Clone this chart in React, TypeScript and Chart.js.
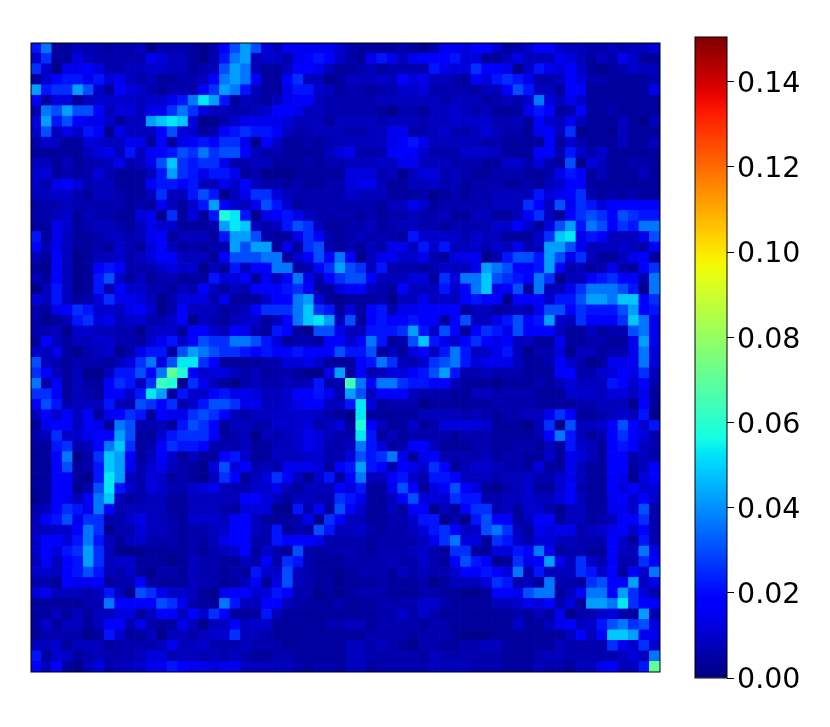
import React, { useEffect, useRef } from "react";
import { Chart, registerables } from "chart.js";

Chart.register(...registerables);

// Value behind each character used in the rows below.
const levelKeys = "0123456789abcdefgh";
const levelValues = [0.002, 0.004, 0.006, 0.008, 0.010, 0.012, 0.014, 0.0165, 0.0215, 0.0255, 0.03, 0.036, 0.042, 0.048, 0.053, 0.058, 0.064, 0.07];

const gridRows = [
  "8b1132212230222 1027aca53666664 211112102665774 124774332232335",
  "491153222226533 1028bc344267874 216863677785511 363336531326411",
  "940667522334433 123acb311377631 123122228655977 604865741012433",
  "147886856323112 237bcb711793301 333437563321758 986223752211112",
  "c899ca417542122 279cb8311688431 221224452222133 7a8331771111116",
  "715513444434468 bec813213677322 222333333233312 324b53641111111",
  "2bacaa73553669b 953322347763322 222102213343231 116871271121111",
  "5c8a7664133cded 500246666533313 333233323344442 231743631113103",
  "4a36487063337a5 412789887322333 223366223422353 221673901103111",
  "243115433661716 787996074112123 333367863333322 111171421113113",
  "11111356383778a 9b9aa7322111135 622277742224443 111772842411111",
  "331312236236ad9 899622331112122 333436633322211 442521a05311221",
  "4512125211138c9 868861200011111 555230355232112 221126871311131",
  "426752331117887 833647322121122 566311334231222 112134771111111",
  "334421332113933 8a8036995322222 433311120121223 333856792121211",
  "122322222121631 48c7436a8412222 222133641222223 33973a698577777",
  "223413221156091 518fe8067863222 212122322311331 13793179a97a988",
  "116412332136441 112ced3238a9311 223123322122224 47415ac8ba798bb",
  "816311233236713 3318cca21169721 232221844442433 11149de6873336a",
  "726311214215731 2122cacc1619a21 213266384833424 3623cca63334327",
  "317301334235773 3317aaabb147a7b 703664462156602 8aa8ca693113671",
  "107301787222454 40318377bb1279c a938222124336cb a778c7231262179",
  "3173018a4131221 1185571637b6279 aa733355195bbda 987b9033789772b",
  "038301827442213 273132777897115 773217333847bd6 7a1b3369bbba80b",
  "538312596653025 5526111477bc510 111203363437877 0777488accbdd79",
  "216798443674027 3331237999bd981 517826677771331 2326aa79888ac78",
  "201389563442247 0321344137bdec3 a1787787717a336 8a78c4397779db6",
  "223044332203441 774376218710aa6 338889c84a71798 6a7773113122ab6",
  "173133442214684 7a99bba85122177 47b812ad8647976 7331161122116c6",
  "43610234026881a cba99878778777a 88a1315738b8346 8302250331226b5",
  "a3212221359b5ae e97111122556411 178b93249ab8566 6311274201666b5",
  "9731300388a7bhf 74553231221006c 17235578ac82232 221117722457693",
  "b27131179839gf0 963102322323822 gb7bb9887731110 111213533387472",
  "99713217748ec18 447866533477862 ca3777322211332 222111444355361",
  "7a82333832a9792 48aa96633467733 8e5122201111112 222111122333071",
  "374737167981766 9a9732334444321 0e1111133332321 223369711234380",
  "16773761ba22318 a97133224445235 1f7311412555541 110390a3347a748",
  "23944677ca11489 997123032346532 2e8131222212221 11127b831279752",
  "1189237bd912798 872223113346522 3b8512773111221 122131843178732",
  "117b029dc713741 311784113334422 5a89b6167222231 221141653177232",
  "117a128dc624632 105a57232666517 8c8727649713443 221511631177137",
  "1177108ec325412 103971359730481 7b3378428873332 334224631176057",
  "117702ae8425422 456322446313337 58116a7157a7510 234114721175745",
  "017637bd3123311 333337753133229 861137a55498822 334335731167474",
  "237986b72333311 33321555008271a 741131770317992 3144203311664a2",
  "378a69922463321 444377311126097 3311224880208a7 713771331237792",
  "33447b902253321 223477328121a83 3421223589734ab 931656623467472",
  "47758b831342221 213677228777622 2212222369b5519 842553322274182",
  "47589c930001111 2123471421a2122 221222342199115 587b612211733b6",
  "37378c934411101 322113272982111 22223224217a870 1967c6394272297",
  "44378a832410221 322121844a32110 122213232247787 5b283339847174b",
  "221766712271111 322113715a32110 111211120133359 8231b2219a77c36",
  "5633323830a9644 310677458722010 122211122110017 76abb137bb7c952",
  "1111122b7777a96 211b83377321112 111222244211113 34657251ccbe977",
  "113131335513773 749711183111111 111224242111111 1213160224521c2",
  "141331377262116 303373441111122 331222212211111 1411367348ab9a5",
  "122220184113033 234493321111111 112222122210001 1111113737ddc66",
  "334133312222363 342223222111111 332321022112233 111113222296494",
  "814412322235523 323232112211111 332222213222222 11123322222353b",
  "737103523346687 665663333321221 331222223333222 11132213367338h",
];

const colorbarMax = 0.1505;
const colorbarStep = 0.02;

function ramp(t: number, a: number, b: number) {
  return Math.max(0, Math.min(1, (t - a) / (b - a)));
}
function jet(t: number) {
  const r = t > 0.89 ? 1 - 0.5 * ramp(t, 0.89, 1) : ramp(t, 0.35, 0.66);
  const g = t < 0.5 ? ramp(t, 0.125, 0.375) : 1 - ramp(t, 0.64, 0.91);
  const b = t < 0.2 ? 0.5 + 0.5 * ramp(t, 0, 0.11) : 1 - ramp(t, 0.34, 0.65);
  return `rgb(${Math.round(r * 255)},${Math.round(g * 255)},${Math.round(b * 255)})`;
}

const frame = {
  id: "frame",
  afterDatasetsDraw(chart: any) {
    const { ctx, chartArea: a } = chart;
    ctx.save();
    ctx.strokeStyle = "#000";
    ctx.lineWidth = 1;
    ctx.strokeRect(a.left, a.top, a.right - a.left, a.bottom - a.top);
    ctx.restore();
  },
};

export default function App() {
  const mapRef = useRef<HTMLCanvasElement>(null);
  const barRef = useRef<HTMLCanvasElement>(null);

  useEffect(() => {
    const cells: { x: number; y: number; v: number }[] = [];
    gridRows.forEach((row, r) => {
      row.replace(/ /g, "").split("").forEach((ch, c) => {
        cells.push({ x: c + 0.5, y: r + 0.5, v: levelValues[levelKeys.indexOf(ch)] });
      });
    });
    const n = gridRows.length;
    const colorOf = (ctx: any) => jet((ctx.raw ? ctx.raw.v : 0) / 0.15);

    const map = new Chart(mapRef.current!, {
      type: "scatter",
      data: {
        datasets: [
          {
            data: cells as any,
            pointStyle: "rect",
            pointRadius: ((629 / n) / 2) * Math.SQRT2,
            pointBackgroundColor: colorOf,
            pointBorderColor: colorOf,
            pointBorderWidth: 1,
            clip: 0,
          } as any,
        ],
      },
      options: {
        responsive: false,
        animation: false,
        events: [],
        layout: { padding: 1, autoPadding: false },
        plugins: { legend: { display: false }, tooltip: { enabled: false } },
        scales: {
          x: { type: "linear", min: 0, max: n, display: false },
          y: { type: "linear", min: 0, max: n, reverse: true, display: false },
        },
      },
      plugins: [frame],
    });

    const bar = new Chart(barRef.current!, {
      type: "bar",
      data: {
        labels: [""],
        datasets: [
          {
            data: [[0, colorbarMax]] as any,
            barPercentage: 1,
            categoryPercentage: 1,
            borderWidth: 0,
            backgroundColor: (ctx: any) => {
              const a = ctx.chart.chartArea;
              if (!a) return "#00007f";
              const g = ctx.chart.ctx.createLinearGradient(0, a.bottom, 0, a.top);
              for (let i = 0; i <= 40; i++) g.addColorStop(i / 40, jet(i / 40));
              return g;
            },
          },
        ],
      },
      options: {
        responsive: false,
        animation: false,
        events: [],
        layout: { padding: { left: 695, right: 0, top: 37, bottom: 49 }, autoPadding: false },
        plugins: { legend: { display: false }, tooltip: { enabled: false } },
        scales: {
          x: { display: false },
          y: {
            position: "right",
            min: 0,
            max: colorbarMax,
            afterFit: (s: any) => {
              s.width = 103;
              if (!s.__shifted) {
                s.__shifted = true;
                const compute = s._computeLabelItems.bind(s);
                s._computeLabelItems = (area: any) => {
                  const items = compute(area);
                  items.forEach((it: any) => {
                    it.options.translation = [it.options.translation[0], it.options.translation[1] + 3];
                  });
                  return items;
                };
              }
            },
            border: { display: false },
            grid: { drawOnChartArea: false, drawTicks: true, tickLength: 7, color: "#000", lineWidth: 1 },
            ticks: {
              stepSize: colorbarStep,
              includeBounds: false,
              padding: 3,
              color: "#000",
              font: { family: "DejaVu Sans", size: 28.5 },
              maxRotation: 0,
              autoSkip: false,
              callback: (v: any) => Number(v).toFixed(2),
            },
          },
        },
      },
      plugins: [frame],
    });

    return () => {
      map.destroy();
      bar.destroy();
    };
  }, []);

  return (
    <div style={{ position: "absolute", left: 0, top: 0, width: 830, height: 727, background: "#fff", overflow: "hidden" }}>
      <canvas ref={mapRef} width={631} height={631} style={{ position: "absolute", left: 30, top: 42, display: "block" }} />
      <canvas ref={barRef} width={830} height={727} style={{ position: "absolute", left: 0, top: 0, display: "block" }} />
    </div>
  );
}
